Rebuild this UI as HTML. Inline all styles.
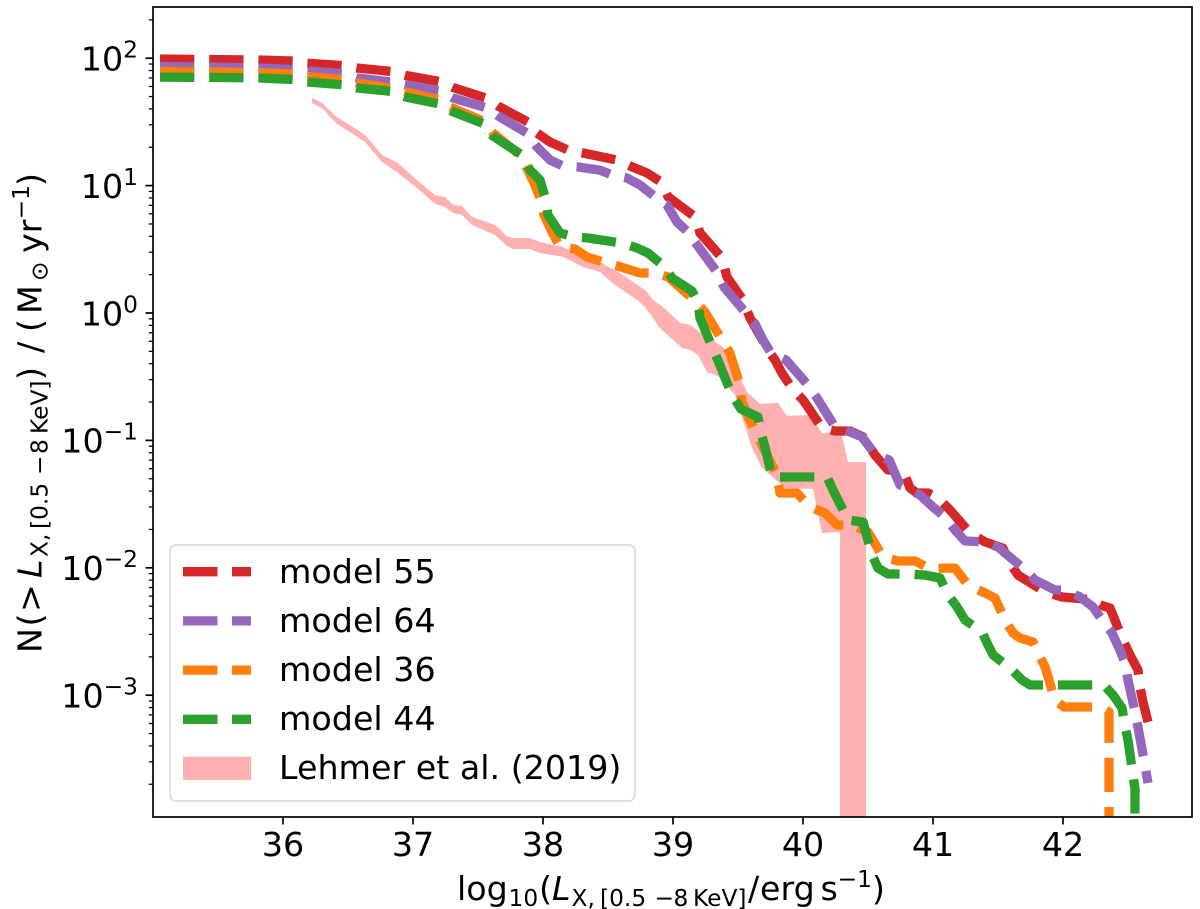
<!DOCTYPE html>
<html lang="en">
<head>
<meta charset="utf-8">
<title>X-ray luminosity function</title>
<style>
html,body{margin:0;padding:0;background:#fff;width:1200px;height:909px;overflow:hidden}
svg{display:block}
text{font-family:"DejaVu Sans",sans-serif;fill:#000}
</style>
</head>
<body>
<svg id="chart" xmlns="http://www.w3.org/2000/svg" width="1200" height="909" viewBox="0 0 1200 909">
  <defs>
    <clipPath id="axes-clip"><rect x="153" y="7" width="1039" height="810"/></clipPath>
  </defs>
  <rect x="0" y="0" width="1200" height="909" fill="#fff"/>
  <g id="band-layer" clip-path="url(#axes-clip)"></g>
  <g id="line-layer" clip-path="url(#axes-clip)"></g>
  <g id="tick-layer"></g>
  <rect x="153" y="7" width="1039" height="810" fill="none" stroke="#000" stroke-width="1.7"/>

  <text font-size="33.3"><tspan x="457" y="900">log</tspan><tspan x="508.5" y="906" font-size="23.3">10</tspan><tspan x="539" y="900">(</tspan><tspan x="552" y="900" font-style="italic">L</tspan><tspan x="571.5" y="906" font-size="23.3">X,</tspan><tspan x="600" y="906" font-size="23.3">[0.5</tspan><tspan x="654.5" y="906" font-size="23.3">−</tspan><tspan x="673.5" y="906" font-size="23.3">8</tspan><tspan x="693" y="906" font-size="23.3">KeV]</tspan><tspan x="748" y="900">/</tspan><tspan x="760" y="900">erg</tspan><tspan x="820.5" y="900">s</tspan><tspan x="837.6" y="887" font-size="23.3">−1</tspan><tspan x="872" y="900">)</tspan></text>

  <text transform="translate(41.5,653) rotate(-90)" font-size="33.3"><tspan x="0" y="0">N</tspan><tspan x="26.5" y="0">(</tspan><tspan x="41" y="0">&gt;</tspan><tspan x="75" y="0" font-style="italic">L</tspan><tspan x="96" y="6" font-size="23.3">X,</tspan><tspan x="124" y="6" font-size="23.3">[0.5</tspan><tspan x="178" y="6" font-size="23.3">−</tspan><tspan x="199" y="6" font-size="23.3">8</tspan><tspan x="219" y="6" font-size="23.3">KeV]</tspan><tspan x="273" y="0">)</tspan><tspan x="300" y="0">/</tspan><tspan x="321" y="0">(</tspan><tspan x="339" y="0">M</tspan><tspan x="372" y="6" font-size="23.3">⊙</tspan><tspan x="400" y="0">yr</tspan><tspan x="433.6" y="-12.5" font-size="23.3">−1</tspan><tspan x="467" y="0">)</tspan></text>

  <g>
    <rect x="170" y="545" width="465" height="256" rx="6" ry="6" fill="#fff" fill-opacity="0.8" stroke="#dcdcdc" stroke-width="1.7"/>
    <g id="legend-entries"></g>
  </g>
</svg>
<script>
// Axis tick values
const xTickValues = [36, 37, 38, 39, 40, 41, 42];
const yTickExponents = [2, 1, 0, -1, -2, -3];
const yMinorDecades = [2, 1, 0, -1, -2, -3, -4];
const yMinorMultipliers = [2, 3, 4, 5, 6, 7, 8, 9];

// model 55: log10(L_X) and log10(N)
const logL55 = [35.054,35.438,35.808,36.077,36.185,36.454,36.569,36.831,36.946,37.208,37.308,37.569,37.654,37.885,37.954,38.054,38.192,38.308,38.569,38.669,38.8,38.908,38.962,39.169,39.208,39.377,39.415,39.538,39.592,39.746,39.785,39.838,39.915,40.0,40.038,40.146,40.246,40.362,40.462,40.554,40.654,40.769,40.823,40.877,40.962,41.038,41.131,41.285,41.4,41.538,41.577,41.654,41.862,41.992,42.246,42.285,42.362,42.454,42.515,42.577,42.592,42.615,42.654];
const logN55 = [1.994,1.990,1.986,1.978,1.960,1.943,1.923,1.896,1.864,1.816,1.770,1.685,1.625,1.499,1.413,1.342,1.279,1.256,1.201,1.154,1.099,1.028,0.911,0.754,0.628,0.432,0.283,0.102,-0.039,-0.314,-0.369,-0.471,-0.589,-0.683,-0.738,-0.903,-0.926,-0.926,-0.973,-1.115,-1.232,-1.232,-1.374,-1.413,-1.413,-1.452,-1.546,-1.727,-1.797,-1.845,-1.939,-2.057,-2.190,-2.229,-2.253,-2.292,-2.316,-2.551,-2.684,-2.802,-2.936,-3.053,-3.210];

// model 64
const logL64 = [35.054,35.438,35.808,36.077,36.185,36.454,36.569,36.831,36.946,37.208,37.308,37.569,37.669,37.877,37.954,38.054,38.154,38.269,38.438,38.531,38.646,38.746,38.862,38.954,39.031,39.115,39.185,39.338,39.392,39.554,39.631,39.692,39.754,39.869,40.038,40.108,40.246,40.362,40.454,40.554,40.662,40.746,40.8,40.9,41.0,41.092,41.169,41.246,41.4,41.5,41.692,41.785,41.938,42.015,42.131,42.231,42.3,42.377,42.438,42.477,42.5,42.554,42.577,42.623,42.654];
const logN64 = [1.935,1.931,1.923,1.911,1.900,1.880,1.845,1.813,1.790,1.743,1.688,1.609,1.538,1.413,1.303,1.201,1.154,1.146,1.122,1.083,1.060,1.005,0.911,0.848,0.714,0.636,0.534,0.322,0.204,0.008,-0.086,-0.212,-0.314,-0.369,-0.565,-0.667,-0.895,-0.934,-0.973,-1.107,-1.154,-1.350,-1.374,-1.429,-1.523,-1.601,-1.703,-1.790,-1.797,-1.837,-2.002,-2.096,-2.174,-2.174,-2.229,-2.308,-2.410,-2.512,-2.645,-2.747,-2.881,-3.132,-3.250,-3.509,-3.689];

// model 36
const logL36 = [35.054,35.438,35.808,36.077,36.185,36.454,36.569,36.831,36.946,37.208,37.285,37.538,37.615,37.823,37.877,37.938,37.992,38.008,38.069,38.131,38.246,38.338,38.492,38.6,38.746,38.862,38.962,39.154,39.246,39.377,39.438,39.515,39.531,39.631,39.692,39.8,39.823,39.954,40.054,40.169,40.262,40.377,40.5,40.615,40.731,40.862,40.977,41.092,41.169,41.269,41.4,41.477,41.554,41.615,41.669,41.769,41.808,41.862,41.938,42.008,42.285,42.354,42.354];
const logN36 = [1.896,1.892,1.887,1.876,1.856,1.833,1.805,1.766,1.735,1.672,1.617,1.507,1.413,1.240,1.138,1.005,0.863,0.769,0.636,0.518,0.502,0.440,0.392,0.361,0.314,0.314,0.283,0.110,0.008,-0.212,-0.314,-0.565,-0.699,-0.934,-1.052,-1.272,-1.413,-1.413,-1.523,-1.570,-1.664,-1.664,-1.719,-1.915,-1.947,-1.947,-2.009,-2.002,-2.002,-2.135,-2.198,-2.237,-2.410,-2.512,-2.551,-2.582,-2.669,-2.779,-3.038,-3.093,-3.093,-3.132,-4.294];

// model 44
const logL44 = [35.054,35.438,35.808,36.077,36.185,36.454,36.569,36.831,36.946,37.2,37.292,37.546,37.615,37.838,37.9,37.977,38.023,38.038,38.131,38.238,38.346,38.608,38.723,38.808,38.938,38.992,39.146,39.192,39.208,39.308,39.354,39.454,39.523,39.654,39.677,39.708,39.762,39.892,40.185,40.231,40.346,40.462,40.531,40.577,40.654,40.823,40.938,41.054,41.115,41.185,41.246,41.377,41.423,41.462,41.608,41.685,41.746,41.938,42.315,42.385,42.454,42.477,42.5,42.538,42.554,42.554];
const logN44 = [1.852,1.849,1.845,1.833,1.813,1.792,1.766,1.740,1.695,1.641,1.586,1.484,1.389,1.240,1.122,1.044,0.887,0.769,0.628,0.597,0.589,0.549,0.510,0.471,0.361,0.275,0.173,0.086,-0.039,-0.283,-0.392,-0.644,-0.754,-0.816,-0.942,-1.052,-1.287,-1.287,-1.287,-1.389,-1.625,-1.641,-1.900,-2.002,-2.049,-2.049,-2.057,-2.080,-2.213,-2.308,-2.410,-2.504,-2.606,-2.684,-2.802,-2.881,-2.920,-2.920,-2.920,-2.998,-3.100,-3.242,-3.352,-3.626,-3.736,-4.294];

// Lehmer et al. (2019) band edges
const bandUpperL = [36.223,36.3,36.415,36.515,36.631,36.762,36.885,37.031,37.169,37.246,37.308,37.377,37.454,37.631,37.723,37.769,37.9,37.977,38.154,38.308,38.438,38.615,38.785,38.846,38.923,39.054,39.131,39.208,39.385,39.423,39.569,39.669,39.808,39.877,40.054,40.146,40.292,40.346,40.485];
const bandUpperN = [1.688,1.648,1.538,1.476,1.397,1.240,1.177,1.044,0.926,0.911,0.848,0.840,0.754,0.691,0.604,0.589,0.589,0.557,0.518,0.440,0.400,0.298,0.181,0.102,0.047,-0.078,-0.094,-0.149,-0.267,-0.314,-0.620,-0.714,-0.706,-0.808,-0.801,-0.942,-0.934,-1.170,-1.170];
const bandLowerL = [36.223,36.3,36.415,36.515,36.631,36.762,36.885,37.031,37.169,37.246,37.308,37.377,37.454,37.631,37.723,37.769,37.9,37.977,38.154,38.308,38.438,38.554,38.723,38.785,38.9,39.069,39.131,39.192,39.262,39.346,39.477,39.608,39.685,39.862,40.077,40.146,40.285,40.285,40.485];
const bandLowerN = [1.648,1.609,1.484,1.421,1.342,1.185,1.099,0.981,0.856,0.832,0.785,0.769,0.691,0.612,0.526,0.502,0.502,0.471,0.440,0.361,0.322,0.220,0.102,0.047,-0.118,-0.275,-0.290,-0.330,-0.463,-0.495,-0.644,-1.060,-1.217,-1.374,-1.381,-1.727,-1.719,-4.294,-4.294];

const legendLabels = ['model 55', 'model 64', 'model 36', 'model 44', 'Lehmer et al. (2019)'];
const seriesColors = ['#d62728', '#9467bd', '#ff7f0e', '#2ca02c'];
const seriesX = [logL55, logL64, logL36, logL44];
const seriesY = [logN55, logN64, logN36, logN44];
const bandColor = '#ffb1b1';

const SVG_NS = 'http://www.w3.org/2000/svg';
const xScale = function (v) { return 283 + 130 * (v - 36); };
const yScale = function (d) { return 58.2 + 127.4 * (2 - d); };

function make(tag, attrs, parent) {
  const el = document.createElementNS(SVG_NS, tag);
  for (const k in attrs) el.setAttribute(k, attrs[k]);
  parent.appendChild(el);
  return el;
}

const bandLayer = document.getElementById('band-layer');
const lineLayer = document.getElementById('line-layer');
const tickLayer = document.getElementById('tick-layer');
const legendEntries = document.getElementById('legend-entries');

// Band
const upperPts = bandUpperL.map(function (v, i) { return xScale(v).toFixed(1) + ',' + yScale(bandUpperN[i]).toFixed(1); });
const lowerPts = bandLowerL.map(function (v, i) { return xScale(v).toFixed(1) + ',' + yScale(bandLowerN[i]).toFixed(1); }).reverse();
const band = make('polygon', { points: upperPts.concat(lowerPts).join(' '), fill: bandColor, stroke: 'none' }, bandLayer);



// Lines
seriesX.forEach(function (xs, s) {
  const pts = xs.map(function (v, i) { return xScale(v).toFixed(1) + ',' + yScale(seriesY[s][i]).toFixed(1); }).join(' ');
  const line = make('polyline', {
    points: pts, fill: 'none', stroke: seriesColors[s], 'stroke-width': 9.3,
    'stroke-dasharray': '34.3 14.9', 'stroke-linecap': 'butt', 'stroke-linejoin': 'round'
  }, lineLayer);
  
  
});

// X ticks
xTickValues.forEach(function (v) {
  const px = xScale(v);
  const tick = make('line', { x1: px, x2: px, y1: 817, y2: 824.5, stroke: '#000', 'stroke-width': 1.7 }, tickLayer);
  
  
  const label = make('text', { x: px, y: 856, 'font-size': 33.3, 'text-anchor': 'middle' }, tickLayer);
  
  
  label.textContent = String(v);
});

// Y major ticks
yTickExponents.forEach(function (d) {
  const py = yScale(d);
  const tick = make('line', { x1: 153, x2: 145.5, y1: py, y2: py, stroke: '#000', 'stroke-width': 1.7 }, tickLayer);
  
  
  const label = make('text', { x: 138, y: py + 12.3, 'font-size': 33.3, 'text-anchor': 'end' }, tickLayer);
  
  
  const base = make('tspan', {}, label);
  base.textContent = '10';
  const sup = make('tspan', { 'font-size': 23.3, dy: -13 }, label);
  sup.textContent = (d < 0 ? '\u2212' : '') + Math.abs(d);
});

// Y minor ticks
yMinorDecades.forEach(function (dec) {
  yMinorMultipliers.forEach(function (m) {
    const d = dec + Math.log10(m);
    const py = yScale(d);
    if (py < 7 || py > 817) return;
    const tick = make('line', { x1: 153, x2: 148.8, y1: py, y2: py, stroke: '#000', 'stroke-width': 1.25 }, tickLayer);
    
    
  });
});

// Legend
legendLabels.forEach(function (txt, i) {
  const rowBaseline = 583 + 49 * i;
  if (i < seriesColors.length) {
    const rowY = 571.7 + 49.2 * i;
    const dashA = make('line', { x1: 183, x2: 217.5, y1: rowY, y2: rowY, stroke: seriesColors[i], 'stroke-width': 9.3 }, legendEntries);
    
    
    const dashB = make('line', { x1: 232, x2: 251, y1: rowY, y2: rowY, stroke: seriesColors[i], 'stroke-width': 9.3 }, legendEntries);
    
    
  } else {
    const patch = make('rect', { x: 183, y: 756.7, width: 68, height: 23.3, fill: bandColor }, legendEntries);
    
    
  }
  const label = make('text', { x: 279, y: rowBaseline, 'font-size': 33.3 }, legendEntries);
  
  
  label.textContent = txt;
});
</script>
</body>
</html>
